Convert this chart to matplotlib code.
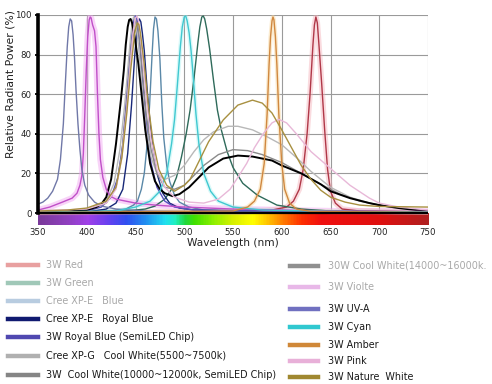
import matplotlib
matplotlib.use("Agg")
import matplotlib.pyplot as plt
import numpy as np
from matplotlib.colors import LinearSegmentedColormap
from matplotlib.lines import Line2D

# ---------------- data ----------------
x_ticks = [350, 400, 450, 500, 550, 600, 650, 700, 750]
y_ticks = [0, 20, 40, 60, 80, 100]

red_wl = [350, 560, 590, 605, 612, 618, 622, 626, 629, 632, 633.5, 635, 636.5, 638, 641, 644, 647, 650, 655, 662, 680, 750]
red_val = [0.3, 0.5, 1.5, 3, 6, 12, 22, 40, 60, 85, 95, 99, 96, 86, 65, 42, 22, 11, 5, 2, 1, 0.5]

green_wl = [350, 440, 460, 470, 480, 487, 492, 497, 502, 506, 510, 514, 516, 518, 519.5, 521, 523, 526, 530, 534, 538, 544, 550, 560, 575, 595, 620, 650, 750]
green_val = [0.5, 1, 2, 3.5, 7, 12, 18, 28, 40, 52, 68, 86, 94, 99, 99.5, 98, 93, 83, 67, 52, 42, 31, 23, 15, 9, 4, 2, 1, 0.5]

xpe_blue_wl = [350, 420, 440, 448, 452, 456, 459, 462, 464.5, 467, 468.5, 470, 471.5, 473, 475, 477, 479, 482, 485, 490, 495, 505, 520, 600, 750]
xpe_blue_val = [0.3, 0.8, 2, 4, 6, 12, 20, 35, 55, 80, 93, 99, 98, 92, 78, 55, 38, 24, 16, 9, 5.5, 3, 1.5, 0.8, 0.3]

xpe_royal_wl = [350, 400, 420, 430, 437, 442, 446, 449, 451, 452.5, 454, 455.5, 457, 459, 462, 465, 468, 472, 478, 485, 495, 510, 550, 650, 750]
xpe_royal_val = [0.3, 0.5, 2, 5, 12, 30, 55, 78, 90, 96, 98, 96.5, 91, 82, 62, 45, 32, 20, 10, 5, 2.5, 1.5, 1, 0.5, 0.3]

semi_royal_wl = [350, 400, 415, 425, 432, 437, 441, 445, 447, 448.5, 450, 451.5, 453, 455, 458, 462, 466, 472, 480, 490, 510, 600, 750]
semi_royal_val = [0.5, 1, 3, 8, 18, 35, 60, 85, 94, 98.5, 99.5, 98, 92, 82, 63, 40, 25, 13, 6, 3, 1.5, 0.8, 0.5]

xpg_cool_wl = [350, 400, 420, 428, 434, 439, 443, 445, 446.5, 448, 449.5, 451, 453, 457, 461, 466, 472, 480, 490, 500, 510, 520, 530, 545, 555, 570, 585, 600, 615, 630, 650, 670, 690, 710, 730, 750]
xpg_cool_val = [0.5, 1.5, 6, 15, 32, 55, 78, 89, 96, 99, 98, 93, 85, 62, 42, 28, 20, 17, 19, 24, 31, 37, 41, 43.8, 43.8, 42, 38.5, 34.5, 28, 21, 13, 8, 5, 3, 2, 1]

cool3w_wl = [350, 400, 420, 430, 436, 441, 445, 447, 448.5, 450, 451.5, 453, 455, 457, 461, 466, 472, 480, 490, 500, 510, 520, 535, 550, 565, 580, 600, 620, 640, 660, 680, 700, 725, 750]
cool3w_val = [0.5, 1.5, 5, 13, 30, 55, 80, 89, 94.5, 97, 96, 92, 84, 72, 50, 32, 20, 13, 12, 14, 19, 24, 29.5, 32, 31.5, 29.5, 25.5, 20, 14.5, 9.5, 6, 4, 2.5, 1]

cool30w_wl = [350, 380, 400, 410, 415, 420, 425, 430, 435, 438, 440, 442, 443.5, 445, 446.5, 448, 450, 453, 456, 460, 465, 470, 475, 480, 488, 495, 505, 515, 525, 540, 555, 570, 590, 600, 620, 640, 650, 670, 690, 700, 720, 750]
cool30w_val = [0.5, 0.8, 1.5, 3, 4.5, 8, 17, 35, 57, 72, 85, 94, 97.5, 98, 96, 92, 86, 75, 61, 42, 25, 16, 12, 10, 8.5, 9.5, 13, 18, 23, 27.5, 29, 28.5, 26.5, 24, 20, 14.5, 11, 7.5, 5, 4, 2.5, 0.8]

violet_wl = [350, 362, 375, 385, 390, 393, 395, 396.5, 398, 399.5, 401, 402.5, 403.5, 404.5, 406, 408, 409.5, 411, 412.5, 414, 416.5, 420, 424, 430, 440, 450, 470, 500, 550, 650, 750]
violet_val = [1.5, 3, 5.5, 7.5, 10, 14, 19, 30, 50, 72, 89, 97.5, 99, 98.5, 95, 92, 84, 60, 40, 27, 18, 12, 8.5, 7, 6, 5, 4, 3, 2, 1, 0.8]

uva_wl = [350, 355, 360, 365, 370, 373, 376, 378, 380, 381.5, 383, 384.5, 386, 387.5, 389, 391, 393, 395, 398, 402, 408, 415, 430, 460, 550, 750]
uva_val = [4.5, 5.5, 7.5, 11, 17, 27, 45, 65, 84, 94, 98, 97, 90, 78, 62, 45, 32, 22, 14, 9, 5.5, 3.5, 2, 1, 0.5, 0.2]

cyan_wl = [350, 430, 450, 465, 475, 482, 487, 490, 493, 496, 498, 500, 501.5, 503, 505, 507, 509, 512, 515, 520, 527, 535, 550, 580, 650, 750]
cyan_val = [0.5, 1, 3, 6, 11, 20, 35, 47, 65, 84, 94, 99, 99.5, 97, 91, 82, 70, 50, 35, 20, 11, 6, 3, 1.5, 0.8, 0.5]

amber_wl = [350, 550, 565, 572, 578, 582, 585, 587, 588.5, 590, 591, 592, 593.5, 595, 597, 600, 603, 608, 615, 630, 750]
amber_val = [0.3, 1, 3, 6, 12, 25, 50, 75, 89, 97, 99, 97.5, 89, 75, 50, 25, 12, 5, 2, 0.8, 0.3]

pink_wl = [350, 400, 420, 430, 436, 441, 445, 448, 450, 451.5, 453, 455, 457, 461, 466, 472, 480, 490, 505, 520, 535, 547, 555, 564, 572, 581, 590, 597, 605, 615, 630, 650, 670, 690, 700, 720, 750]
pink_val = [1, 2, 5, 12, 28, 52, 77, 93, 98.5, 99.5, 97.5, 90, 80, 58, 37, 22, 13, 8, 5.5, 5, 7, 12, 18, 25, 33, 40, 45.5, 47.3, 45.5, 40, 31, 22.5, 14, 7.5, 5, 3, 1.5]

nature_wl = [350, 380, 400, 420, 430, 436, 441, 445, 449, 450.5, 452, 453.5, 455, 459, 463, 468, 474, 482, 490, 500, 506, 515, 525, 540, 555, 570, 580, 590, 600, 610, 620, 630, 640, 650, 665, 680, 700, 750]
nature_val = [1, 1.5, 2.5, 6, 13, 28, 50, 72, 90, 94, 96, 95, 91, 75, 55, 36, 22, 14, 11, 14, 17, 26, 36, 47, 54.5, 57, 55.5, 50.5, 42, 33, 24, 17, 11.5, 8, 5.5, 4, 3.3, 3]

# series: name, wavelengths, values, line colour, legend colour, label colour
series = [
    ("3W Red", red_wl, red_val, "#b03848", "#e8a0a0", "#a8a8a8"),
    ("3W Green", green_wl, green_val, "#2e6a5a", "#a0c8b8", "#a8a8a8"),
    ("Cree XP-E   Blue", xpe_blue_wl, xpe_blue_val, "#5a88a8", "#b8cce0", "#a8a8a8"),
    ("Cree XP-E   Royal Blue", xpe_royal_wl, xpe_royal_val, "#182878", "#101a70", "#1a1a1a"),
    ("3W Royal Blue (SemiLED Chip)", semi_royal_wl, semi_royal_val, "#5850c0", "#5048b0", "#1a1a1a"),
    ("Cree XP-G   Cool White(5500~7500k)", xpg_cool_wl, xpg_cool_val, "#b8b8b8", "#b0b0b0", "#1a1a1a"),
    ("3W  Cool White(10000~12000k, SemiLED Chip)", cool3w_wl, cool3w_val, "#8a8a8a", "#858585", "#1a1a1a"),
    ("30W Cool White(14000~16000k.", cool30w_wl, cool30w_val, "#000000", "#909090", "#a8a8a8"),
    ("3W Violte", violet_wl, violet_val, "#c050c8", "#e8b8e8", "#a8a8a8"),
    ("3W UV-A", uva_wl, uva_val, "#7078a8", "#7070c0", "#1a1a1a"),
    ("3W Cyan", cyan_wl, cyan_val, "#40c8d0", "#30c8d0", "#1a1a1a"),
    ("3W Amber", amber_wl, amber_val, "#d08840", "#d08838", "#1a1a1a"),
    ("3W Pink", pink_wl, pink_val, "#e8b8d8", "#e8b0d8", "#1a1a1a"),
    ("3W Nature  White", nature_wl, nature_val, "#a89040", "#a08830", "#1a1a1a"),
]

# ---------------- figure ----------------
W, H = 492, 384
fig = plt.figure(figsize=(W / 100, H / 100), dpi=100)
fig.patch.set_facecolor("white")

def px(x, y):
    return x / W, 1 - y / H

ax = fig.add_axes([38 / W, 1 - 225 / H, (428 - 38) / W, (225 - 15) / H])

# spectrum band below the axis
spec_cmap = LinearSegmentedColormap.from_list("spec", [
    (0.000, "#7a3a9a"), (0.075, "#9040c0"), (0.125, "#a040e8"), (0.175, "#6a40f0"),
    (0.225, "#3050f0"), (0.275, "#2090f0"), (0.325, "#20e0f0"), (0.350, "#20f0c0"),
    (0.375, "#20d840"), (0.400, "#40e000"), (0.450, "#90f000"), (0.500, "#d8f000"),
    (0.550, "#ffff00"), (0.590, "#ffc000"), (0.625, "#ff8000"), (0.675, "#ff3000"),
    (0.725, "#f01010"), (0.875, "#e01010"), (1.000, "#b02020")])
grad = np.linspace(0, 1, 400).reshape(1, -1)
ax.imshow(grad, extent=(350, 750, -6.06, 0), aspect="auto", cmap=spec_cmap, zorder=1)

# glows
ax.plot(violet_wl, violet_val, color="#f0a0f0", lw=4.5, alpha=0.45, zorder=2, solid_capstyle="round")
ax.plot(red_wl, red_val, color="#f4b0b8", lw=4.0, alpha=0.45, zorder=2, solid_capstyle="round")
ax.plot(cyan_wl, cyan_val, color="#a0f0f0", lw=3.0, alpha=0.4, zorder=2)
ax.plot(amber_wl, amber_val, color="#f8d8a0", lw=3.0, alpha=0.5, zorder=2)

draw_order = [12, 5, 6, 13, 2, 1, 10, 11, 0, 8, 9, 4, 3, 7]
for i in draw_order:
    name, wl, val, c, _, _ = series[i]
    lw = 1.4 if c == "#000000" else 1.0
    ax.plot(wl, val, color=c, lw=lw, zorder=3 + i * 0.01, solid_joinstyle="round")

ax.set_xlim(350, 750)
ax.set_ylim(-6.06, 100)
ax.set_xticks(x_ticks)
ax.set_yticks(y_ticks)
ax.set_xticklabels([str(t) for t in x_ticks], fontsize=6.2, color="#222222")
ax.set_yticklabels([str(t) for t in y_ticks], fontsize=6.2, color="#222222")
ax.grid(True, color="#9a9a9a", lw=0.8, zorder=0)
ax.set_axisbelow(True)
for s in ["top", "right", "bottom"]:
    ax.spines[s].set_visible(False)
ax.spines["left"].set_bounds(0, 100)
ax.spines["left"].set_linewidth(2.6)
ax.spines["left"].set_color("black")
ax.spines["left"].set_zorder(6)
ax.axhline(0, color="black", lw=1.6, zorder=6)
ax.tick_params(axis="x", length=0, pad=2.5)
ax.tick_params(axis="y", length=2.5, width=1.3, pad=2, color="black")

fig.text(*px(233, 243), "Wavelength (nm)", ha="center", va="center", fontsize=7.6, color="#222222")
fig.text(*px(11, 84), "Relative Radiant Power (%)", ha="center", va="center",
         rotation=90, fontsize=7.8, color="#222222")

# legend (manual, two columns)
left_rows = [265, 283, 301, 319, 337, 356, 375]
right_rows = [266, 287, 309, 327, 345, 361, 377]
for i, (name, wl, val, c, lc, tc) in enumerate(series):
    if i < 7:
        y = left_rows[i]; x0, x1, xt = 8, 38, 46
    else:
        y = right_rows[i - 7]; x0, x1, xt = 290, 318, 328
    (ax0, ay), (ax1, _) = px(x0, y), px(x1, y)
    fig.add_artist(Line2D([ax0, ax1], [ay, ay], color=lc, lw=3.2, transform=fig.transFigure))
    fig.text(*px(xt, y), name, ha="left", va="center", fontsize=6.9, color=tc)

fig.savefig("out.png", dpi=100, facecolor="white")
